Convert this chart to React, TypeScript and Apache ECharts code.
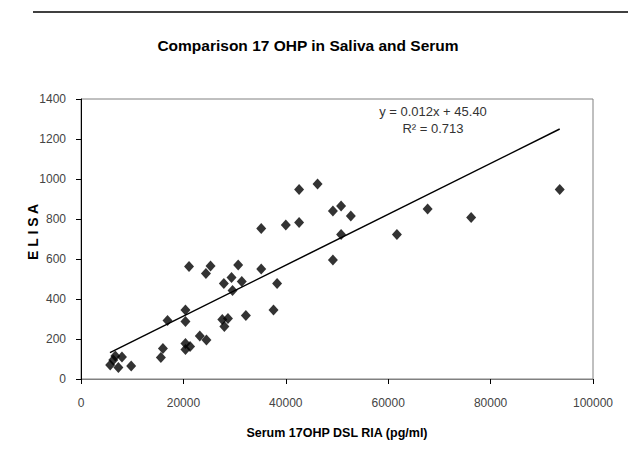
import React, { useEffect, useRef } from "react";
import * as echarts from "echarts";

const title = "Comparison 17 OHP in Saliva and Serum";
const xAxisName = "Serum 17OHP DSL RIA (pg/ml)";
const yAxisName = "E L I S A";
const equationLines = ["y = 0.012x + 45.40", "R² = 0.713"];

const serumRIA = [
  5700, 6300, 6700, 7300, 8000, 9800,
  15600, 16000, 16900, 20400, 20400, 20400, 20400, 21300, 21100,
  23200, 24500, 24400, 25300, 27600, 28000, 28700, 27900, 29400,
  29600, 30700, 31400, 32200, 35200, 35200, 37600, 38300, 40000,
  42600, 42600, 46200, 49200, 49200, 50800, 50800, 52700, 61700,
  67700, 76200, 93500,
];
const salivaELISA = [
  70, 95, 115, 58, 110, 65,
  108, 152, 292, 345, 287, 178, 148, 162, 562,
  215, 195, 528, 565, 298, 262, 302, 478, 507,
  442, 570, 487, 317, 753, 550, 345, 478, 770,
  948, 782, 975, 595, 840, 865, 723, 815, 723,
  850, 807, 948,
];

const trendX = [5660, 93500];
const trendY = [132, 1250];

const xTicks = { min: 0, max: 100000, interval: 20000 };
const yTicks = { min: 0, max: 1400, interval: 200 };

export default function App() {
  const ref = useRef<HTMLDivElement>(null);
  useEffect(() => {
    if (!ref.current) return;
    const chart = echarts.init(ref.current, null, { renderer: "svg" });
    const font = "'Liberation Sans', Arial, sans-serif";
    chart.setOption({
      animation: false,
      backgroundColor: "#ffffff",
      textStyle: { fontFamily: font },
      grid: {
        left: 81,
        right: 35,
        top: 99,
        bottom: 80,
        show: true,
        borderColor: "#808080",
        borderWidth: 1,
      },
      xAxis: {
        type: "value",
        min: xTicks.min,
        max: xTicks.max,
        interval: xTicks.interval,
        splitLine: { show: false },
        axisLine: { show: true, lineStyle: { color: "#808080", width: 1 } },
        axisTick: { show: true, inside: false, length: 5, lineStyle: { color: "#000" } },
        axisLabel: {
          color: "#444",
          fontSize: 12,
          margin: 18,
          fontFamily: font,
          formatter: (v: number) => String(v),
        },
      },
      yAxis: {
        type: "value",
        min: yTicks.min,
        max: yTicks.max,
        interval: yTicks.interval,
        splitLine: { show: false },
        axisLine: { show: true, lineStyle: { color: "#000", width: 1 } },
        axisTick: { show: true, inside: false, length: 5, lineStyle: { color: "#000" } },
        axisLabel: {
          color: "#444",
          fontSize: 12,
          margin: 15,
          fontFamily: font,
          formatter: (v: number) => String(v),
        },
      },
      series: [
        {
          type: "line",
          data: trendX.map((x, i) => [x, trendY[i]]),
          showSymbol: false,
          symbol: "none",
          lineStyle: { color: "#000", width: 1.5 },
          z: 3,
        },
        {
          type: "scatter",
          data: serumRIA.map((x, i) => [x, salivaELISA[i]]),
          symbol: "diamond",
          symbolSize: [10, 11],
          itemStyle: { color: "#000" },
          z: 4,
        },
      ],
      graphic: [
        {
          type: "line",
          shape: { x1: 33, y1: 12, x2: 628, y2: 12 },
          style: { stroke: "#000", lineWidth: 1.5 },
        },
        {
          type: "text",
          x: 308,
          y: 45,
          style: {
            text: title,
            font: `bold 15.5px ${font}`,
            fill: "#000",
            textAlign: "center",
            textVerticalAlign: "middle",
          },
        },
        {
          type: "text",
          x: 337,
          y: 433,
          style: {
            text: xAxisName,
            font: `bold 12.5px ${font}`,
            fill: "#000",
            textAlign: "center",
            textVerticalAlign: "middle",
          },
        },
        {
          type: "text",
          x: 33,
          y: 232,
          rotation: Math.PI / 2,
          style: {
            text: yAxisName,
            font: `bold 14px ${font}`,
            fill: "#000",
            textAlign: "center",
            textVerticalAlign: "middle",
          },
        },
        ...equationLines.map((t, i) => ({
          type: "text",
          x: 433,
          y: 111 + i * 17,
          style: {
            text: t,
            font: `13px ${font}`,
            fill: "#333",
            textAlign: "center",
            textVerticalAlign: "middle",
          },
        })),
      ],
    });
    return () => chart.dispose();
  }, []);
  return <div ref={ref} style={{ width: 628, height: 459, position: "absolute", left: 0, top: 0 }} />;
}
